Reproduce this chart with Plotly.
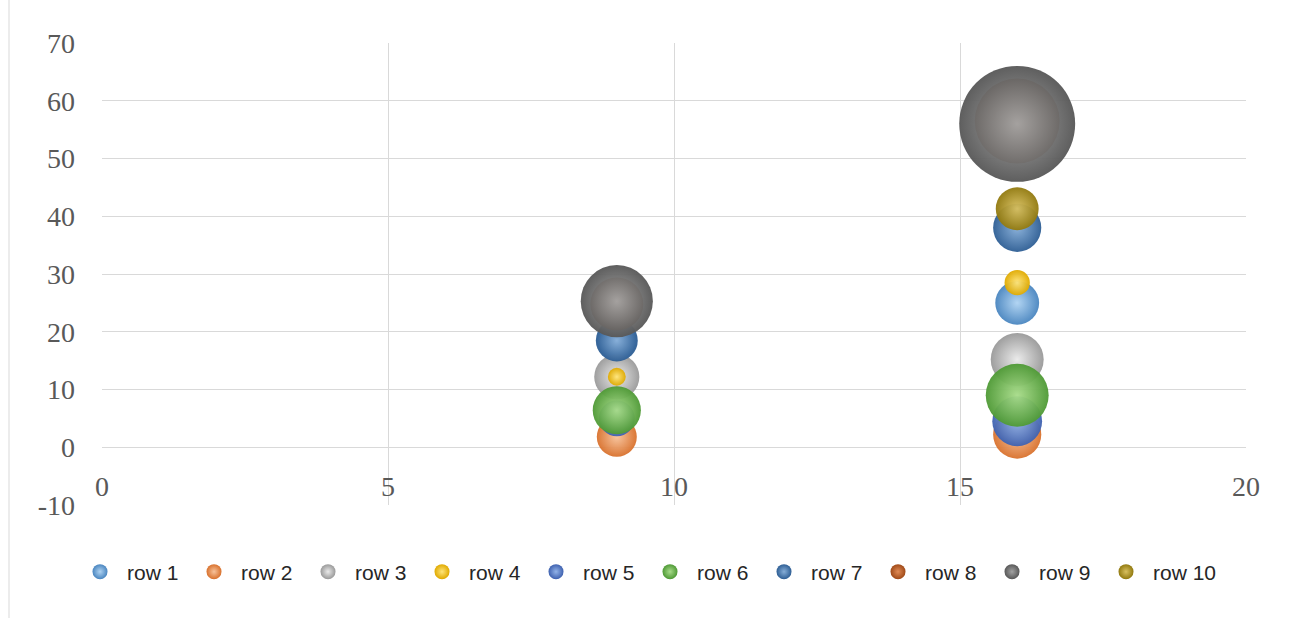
import plotly.graph_objects as go

# Category positions on the horizontal axis
x_values = [9, 16]

series_names = ["row 1", "row 2", "row 3", "row 4", "row 5",
                "row 6", "row 7", "row 8", "row 9", "row 10"]

# Vertical values per series (one per x position)
row1_y = [18.5, 25.0]
row2_y = [1.8, 2.2]
row3_y = [12.2, 15.2]
row4_y = [12.2, 28.5]
row5_y = [5.0, 4.5]
row6_y = [6.4, 9.0]
row7_y = [18.5, 38.0]
row8_y = [24.8, 56.5]
row9_y = [25.3, 56.0]
row10_y = [None, 41.3]

# Bubble size values per series
row1_size = [4.0, 4.8]
row2_size = [4.0, 5.8]
row3_size = [5.1, 7.0]
row4_size = [0.8, 1.6]
row5_size = [3.2, 6.2]
row6_size = [5.8, 9.9]
row7_size = [4.4, 5.8]
row8_size = [7.0, 18.0]
row9_size = [13.0, 33.6]
row10_size = [None, 4.6]

# Axis tick values and their labels
x_ticks = [0, 5, 10, 15, 20]
x_tick_labels = ["0", "5", "10", "15", "20"]
y_ticks = [-10, 0, 10, 20, 30, 40, 50, 60, 70]
y_tick_labels = ["-10", "0", "10", "20", "30", "40", "50", "60", "70"]

y_series = [row1_y, row2_y, row3_y, row4_y, row5_y,
            row6_y, row7_y, row8_y, row9_y, row10_y]
size_series = [row1_size, row2_size, row3_size, row4_size, row5_size,
               row6_size, row7_size, row8_size, row9_size, row10_size]

# Edge colour and highlight (centre) colour for the shaded spheres
edge_colors = ["#4A86C0", "#D9722E", "#9A9A9A", "#E0AA00", "#3F62B0",
               "#4F9A36", "#2F5F95", "#A04A18", "#585858", "#927A10"]
center_colors = ["#AFD3F2", "#F7C29A", "#EAEAEA", "#FFE57A", "#93B3E8",
                 "#A8DC8A", "#86AED8", "#E08A55", "#A2A2A2", "#D8C060"]

SIZEREF = 1 / 200.0

fig = go.Figure()

for name, ys, ss, ec, cc in zip(series_names, y_series, size_series,
                                edge_colors, center_colors):
    xs = [x for x, y in zip(x_values, ys) if y is not None]
    yv = [y for y in ys if y is not None]
    sv = [s for s in ss if s is not None]
    fig.add_trace(go.Scatter(
        x=xs, y=yv, mode="markers", name=name, legendgroup=name,
        showlegend=False,
        marker=dict(size=sv, sizemode="area", sizeref=SIZEREF,
                    color=ec, opacity=0.96,
                    gradient=dict(type="radial", color=cc),
                    line=dict(width=0)),
        hoverinfo="x+y+name",
    ))

# Legend entries with uniform small spheres; the last entry sits in a
# second legend so its wider label is not cut by the fixed entry width
for i, (name, ec, cc) in enumerate(zip(series_names, edge_colors, center_colors)):
    fig.add_trace(go.Scatter(
        x=[None], y=[None], mode="markers", name=name, legendgroup=name,
        showlegend=True,
        legend="legend2" if i == len(series_names) - 1 else "legend",
        marker=dict(size=15, color=ec,
                    gradient=dict(type="radial", color=cc),
                    line=dict(width=0)),
    ))

grid_color = "#D9D9D9"
tick_font = dict(family="Liberation Serif", size=28, color="#595959")
legend_font = dict(family="Liberation Sans", size=21, color="#262626")
legend_y = 1 - 572 / 620

fig.update_layout(
    width=1300, height=620,
    margin=dict(l=102, r=54, t=43, b=115),
    paper_bgcolor="white", plot_bgcolor="white",
    showlegend=True,
    legend=dict(
        orientation="h", xref="container", yref="container",
        x=73 / 1300, y=legend_y, xanchor="left", yanchor="middle",
        font=legend_font, itemwidth=44, entrywidth=55, tracegroupgap=0,
        bgcolor="rgba(0,0,0,0)",
    ),
    legend2=dict(
        orientation="h", xref="container", yref="container",
        x=1099 / 1300, y=legend_y, xanchor="left", yanchor="middle",
        font=legend_font, itemwidth=44, tracegroupgap=0,
        bgcolor="rgba(0,0,0,0)",
    ),
    xaxis=dict(
        range=[0, 20], tickmode="array",
        tickvals=x_ticks, ticktext=x_tick_labels,
        showgrid=True, gridcolor=grid_color, gridwidth=1,
        zeroline=False, showline=False,
        ticks="", ticklabelposition="inside", ticklabeloverflow="allow",
        ticklabelstandoff=0,
        tickfont=tick_font,
    ),
    yaxis=dict(
        range=[-10, 70], tickmode="array",
        tickvals=y_ticks, ticktext=y_tick_labels,
        showgrid=True, gridcolor=grid_color, gridwidth=1,
        zeroline=True, zerolinecolor=grid_color, zerolinewidth=1,
        showline=False, ticks="", ticklabelstandoff=26,
        tickfont=tick_font,
    ),
    shapes=[
        dict(type="line", xref="paper", yref="paper",
             x0=(9 - 102) / 1144, x1=(9 - 102) / 1144,
             y0=(505 - 618) / 462, y1=(505 - 0) / 462,
             line=dict(color=grid_color, width=1)),
    ],
)

fig.write_html("out.html")
